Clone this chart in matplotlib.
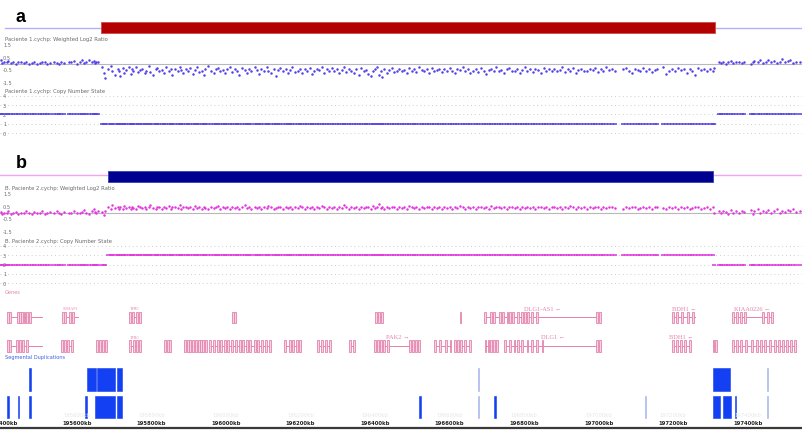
import matplotlib
matplotlib.use('Agg')
import matplotlib.pyplot as plt
from matplotlib.transforms import blended_transform_factory

# ---------------- data ----------------
XMIN, XMAX = 195393, 197546  # kb shown

# CNV calls (kb)
del_a = (195664, 197313)   # Paciente 1, loss (state 1)
dup_b = (195683, 197308)   # Paciente 2, gain (state 3)

# probe positions (kb), shared by both arrays
probes_left = [
    195396, 195399, 195404, 195411, 195415, 195423, 195429, 195436, 195441, 195450,
    195457, 195462, 195470, 195479, 195484, 195492, 195500, 195507, 195515, 195519,
    195527, 195538, 195546, 195551, 195558, 195566, 195577, 195584, 195592, 195600,
    195607, 195613, 195618, 195624, 195631, 195640, 195645, 195649, 195652, 195656]
probes_mid = [
    195667, 195671, 195675, 195683, 195690, 195694, 195701, 195709, 195713, 195716,
    195722, 195725, 195730, 195738, 195744, 195747, 195750, 195758, 195763, 195769,
    195775, 195781, 195785, 195792, 195797, 195805, 195811, 195814, 195820, 195828,
    195833, 195838, 195846, 195851, 195855, 195862, 195870, 195876, 195879, 195884,
    195893, 195899, 195903, 195910, 195916, 195921, 195928, 195935, 195940, 195944,
    195952, 195960, 195967, 195972, 195978, 195984, 195991, 195998, 196003, 196010,
    196017, 196024, 196030, 196035, 196043, 196050, 196056, 196061, 196068, 196077,
    196083, 196088, 196094, 196101, 196109, 196113, 196120, 196128, 196133, 196139,
    196146, 196152, 196160, 196166, 196171, 196178, 196186, 196192, 196198, 196204,
    196211, 196218, 196225, 196230, 196237, 196243, 196250, 196258, 196263, 196270,
    196276, 196284, 196290, 196297, 196303, 196310, 196316, 196323, 196329, 196336,
    196342, 196349, 196357, 196362, 196369, 196375, 196381, 196388, 196393, 196400,
    196406, 196411, 196415, 196419, 196424, 196432, 196437, 196445, 196452, 196458,
    196465, 196471, 196478, 196485, 196490, 196498, 196505, 196511, 196518, 196526,
    196532, 196539, 196545, 196552, 196559, 196566, 196572, 196580, 196586, 196593,
    196600, 196607, 196614, 196620, 196628, 196635, 196641, 196649, 196656, 196663,
    196670, 196676, 196684, 196691, 196697, 196705, 196712, 196718, 196725, 196733,
    196739, 196746, 196754, 196760, 196767, 196775, 196781, 196788, 196795, 196802,
    196809, 196817, 196823, 196830, 196838, 196846, 196853, 196859, 196866, 196874,
    196880, 196888, 196895, 196902, 196910, 196917, 196924, 196932, 196939, 196946,
    196953, 196961, 196968, 196976, 196984, 196991, 196998, 197006, 197013, 197021,
    197028, 197036, 197044, 197066, 197074, 197081, 197089, 197097, 197105, 197112,
    197120, 197128, 197135, 197143, 197151, 197158, 197174, 197182, 197189, 197197,
    197205, 197213, 197221, 197229, 197237, 197244, 197252, 197260, 197268, 197276,
    197284, 197291, 197299, 197306, 197310]
probes_right = [
    197322, 197329, 197335, 197341, 197348, 197356, 197362, 197370, 197377, 197384,
    197391, 197410, 197414, 197418, 197427, 197434, 197441, 197449, 197455, 197462,
    197470, 197478, 197486, 197493, 197500, 197508, 197515, 197522, 197530, 197540]
probes = probes_left + probes_mid + probes_right

log2_a = [
    0.25, 0.05, 0.15, 0.10, 0.20, 0.05, 0.10, 0.00, 0.15, 0.10,
    0.05, 0.10, -0.05, 0.05, 0.10, 0.00, 0.05, 0.10, 0.15, 0.00,
    0.05, 0.10, 0.05, -0.05, 0.10, 0.05, 0.15, 0.10, 0.20, 0.00,
    0.10, 0.25, 0.05, 0.15, 0.30, 0.10, 0.20, 0.05, 0.15, 0.10,
    # deletion
    -0.30, -0.75, -1.10, -0.45, -0.20, -0.60, -0.85, -0.40, -0.55, -0.95,
    -0.35, -0.70, -0.50, -0.25, -0.80, -0.45, -0.60, -0.30, -0.65, -0.50,
    -0.40, -0.75, -0.55, -0.20, -0.65, -0.90, -0.45, -0.35, -0.60, -0.50,
    -0.70, -0.30, -0.55, -0.45, -0.85, -0.40, -0.60, -0.25, -0.50, -0.75,
    -0.45, -0.60, -0.35, -0.80, -0.50, -0.30, -0.65, -0.55, -0.90, -0.40,
    -0.20, -0.55, -0.70, -0.45, -0.35, -0.60, -0.50, -0.75, -0.40, -0.30,
    -0.65, -0.45, -0.55, -0.85, -0.35, -0.50, -0.70, -0.40, -0.60, -0.25,
    -0.50, -0.80, -0.45, -0.60, -0.30, -0.55, -0.70, -0.40, -0.95, -0.50,
    -0.35, -0.60, -0.45, -0.75, -0.50, -0.30, -0.65, -0.55, -0.40, -0.70,
    -0.45, -0.55, -0.35, -0.80, -0.60, -0.40, -0.50, -0.25, -0.70, -0.45,
    -0.60, -0.35, -0.55, -0.45, -0.75, -0.50, -0.30, -0.65, -0.40, -0.55,
    -0.70, -0.45, -0.90, -0.35, -0.60, -0.50, -0.80, -1.00, -0.55, -0.40,
    -0.30, -0.85, -0.60, -1.05, -0.45, -0.70, -0.50, -0.35, -0.65, -0.55,
    -0.40, -0.60, -0.50, -0.75, -0.35, -0.55, -0.45, -0.65, -0.30, -0.50,
    -0.60, -0.45, -0.70, -0.35, -0.55, -0.50, -0.40, -0.65, -0.45, -0.60,
    -0.35, -0.55, -0.75, -0.45, -0.50, -0.30, -0.60, -0.40, -0.70, -0.55,
    -0.45, -0.65, -0.35, -0.55, -0.80, -0.50, -0.40, -0.60, -0.30, -0.55,
    -0.50, -0.70, -0.45, -0.35, -0.60, -0.55, -0.40, -0.75, -0.50, -0.30,
    -0.55, -0.45, -0.65, -0.40, -0.50, -0.70, -0.35, -0.60, -0.45, -0.55,
    -0.40, -0.60, -0.50, -0.30, -0.65, -0.45, -0.55, -0.35, -0.70, -0.50,
    -0.45, -0.55, -0.60, -0.40, -0.50, -0.35, -0.65, -0.45, -0.55, -0.30,
    -0.50, -0.40, -0.60, -0.45, -0.35, -0.55, -0.70, -0.40, -0.50, -0.60,
    -0.35, -0.55, -0.45, -0.65, -0.50, -0.40, -0.30, -0.80, -0.55, -0.45,
    -0.60, -0.35, -0.50, -0.45, -0.70, -0.40, -0.55, -0.90, -0.35, -0.50,
    -0.45, -0.60, -0.40, -0.55, -0.35,
    # right
    0.10, 0.05, 0.15, 0.00, 0.10, 0.20, 0.05, 0.10, 0.15, 0.05,
    0.10, 0.00, 0.15, 0.20, 0.10, 0.25, 0.05, 0.15, 0.30, 0.10,
    0.20, 0.05, 0.15, 0.35, 0.10, 0.20, 0.25, 0.05, 0.15, 0.10]

log2_b = [
    0.05, -0.10, 0.00, -0.05, 0.10, -0.15, 0.00, 0.05, -0.10, 0.00,
    -0.05, 0.10, 0.00, -0.10, 0.05, -0.05, 0.00, 0.15, -0.10, 0.00,
    0.05, -0.05, 0.10, 0.00, -0.15, 0.05, 0.00, -0.05, 0.10, 0.00,
    -0.05, 0.05, 0.20, 0.00, -0.10, 0.10, 0.25, 0.05, -0.05, 0.15,
    # duplication
    0.05, -0.20, 0.10, 0.40, 0.30, 0.55, 0.35, 0.45, 0.25, 0.40,
    0.30, 0.50, 0.35, 0.40, 0.25, 0.45, 0.35, 0.30, 0.50, 0.40,
    0.35, 0.45, 0.30, 0.40, 0.55, 0.35, 0.25, 0.40, 0.45, 0.30,
    0.40, 0.35, 0.50, 0.30, 0.45, 0.40, 0.35, 0.60, 0.30, 0.40,
    0.45, 0.35, 0.40, 0.30, 0.50, 0.35, 0.45, 0.25, 0.40, 0.35,
    0.30, 0.45, 0.35, 0.40, 0.50, 0.30, 0.40, 0.35, 0.45, 0.25,
    0.40, 0.35, 0.45, 0.30, 0.40, 0.55, 0.35, 0.40, 0.30, 0.45,
    0.35, 0.40, 0.30, 0.45, 0.35, 0.50, 0.40, 0.30, 0.35, 0.45,
    0.40, 0.30, 0.45, 0.35, 0.40, 0.25, 0.45, 0.35, 0.50, 0.40,
    0.30, 0.40, 0.35, 0.45, 0.30, 0.40, 0.35, 0.50, 0.40, 0.30,
    0.45, 0.35, 0.40, 0.30, 0.45, 0.35, 0.55, 0.40, 0.30, 0.40,
    0.35, 0.45, 0.30, 0.40, 0.35, 0.45, 0.40, 0.30, 0.50, 0.35,
    0.40, 0.65, 0.35, 0.45, 0.30, 0.40, 0.35, 0.45, 0.40, 0.30,
    0.45, 0.35, 0.40, 0.30, 0.50, 0.40, 0.35, 0.45, 0.30, 0.40,
    0.35, 0.45, 0.40, 0.30, 0.40, 0.35, 0.45, 0.30, 0.40, 0.35,
    0.45, 0.30, 0.40, 0.35, 0.50, 0.40, 0.30, 0.45, 0.35, 0.40,
    0.30, 0.40, 0.45, 0.35, 0.40, 0.30, 0.50, 0.35, 0.40, 0.45,
    0.35, 0.40, 0.30, 0.45, 0.40, 0.35, 0.45, 0.30, 0.40, 0.35,
    0.45, 0.35, 0.40, 0.30, 0.40, 0.45, 0.35, 0.40, 0.30, 0.45,
    0.40, 0.35, 0.45, 0.30, 0.40, 0.35, 0.50, 0.40, 0.30, 0.45,
    0.35, 0.40, 0.30, 0.45, 0.35, 0.40, 0.45, 0.30, 0.40, 0.35,
    0.40, 0.45, 0.35, 0.30, 0.40, 0.35, 0.45, 0.40, 0.30, 0.35,
    0.45, 0.35, 0.40, 0.30, 0.40, 0.45, 0.35, 0.30, 0.40, 0.35,
    0.40, 0.30, 0.45, 0.35, 0.40, 0.30, 0.35, 0.45, 0.40, 0.30,
    0.35, 0.40, 0.30, 0.40, -0.05,
    # right
    0.10, -0.05, 0.15, 0.05, -0.10, 0.20, 0.00, 0.10, -0.05, 0.15,
    0.05, 0.20, -0.10, 0.10, 0.25, 0.00, 0.15, 0.05, 0.20, -0.05,
    0.10, 0.25, 0.00, 0.15, 0.05, 0.20, 0.10, 0.30, 0.05, 0.15]

cn_a = [1 if del_a[0] <= p <= del_a[1] else 2 for p in probes]
cn_b = [3 if dup_b[0] <= p <= dup_b[1] else 2 for p in probes]

# genes: (start, end, exons, label)
genes_row1 = [
    (195415, 195506, [195415, 195420, 195441, 195446, 195452, 195459, 195466, 195473], ''),
    (195562, 195603, [195562, 195568, 195581, 195589], 'SDHAP1'),
    (195742, 195769, [195742, 195750, 195761, 195769], 'TFRC'),
    (196019, 196024, [196019, 196024], ''),
    (196403, 196419, [196403, 196411, 196419], ''),
    (196629, 196629, [196629], ''),
    (196695, 197004, [196695, 196711, 196719, 196736, 196744, 196755, 196763, 196771,
                      196784, 196795, 196803, 196811, 196822, 196835, 196996, 197004], 'DLG1-AS1 \u2190'),
    (197200, 197259, [197200, 197211, 197224, 197240, 197254], 'BDH1 \u2190'),
    (197361, 197465, [197361, 197372, 197383, 197393, 197441, 197454, 197465], 'KIAA0226 \u2190'),
]
genes_row2 = [
    (195415, 195506, [195415, 195420, 195439, 195447, 195455, 195466], ''),
    (195560, 195587, [195560, 195568, 195576, 195587], ''),
    (195654, 195678, [195654, 195662, 195670, 195678], ''),
    (195742, 195769, [195742, 195753, 195761, 195769], 'TFRC'),
    (195836, 195850, [195836, 195844, 195850], ''),
    (195890, 195946, [195890, 195898, 195903, 195911, 195920, 195928, 195933, 195938, 195946], ''),
    (195957, 196118, [195957, 195968, 195979, 195987, 195997, 196005, 196016, 196027, 196037,
                      196046, 196056, 196065, 196078, 196086, 196097, 196107, 196118], ''),
    (196159, 196199, [196159, 196172, 196180, 196191, 196199], ''),
    (196247, 196279, [196247, 196258, 196269, 196279], ''),
    (196333, 196344, [196333, 196344], ''),
    (196400, 196520, [196400, 196408, 196416, 196424, 196435, 196494, 196502, 196510, 196518], 'PAK2 \u2192'),
    (196561, 196602, [196561, 196575, 196591, 196602], ''),
    (196615, 196655, [196615, 196623, 196631, 196642, 196655], ''),
    (196696, 196728, [196696, 196704, 196712, 196720, 196728], ''),
    (196749, 197004, [196749, 196763, 196774, 196784, 196795, 196809, 196822, 196835, 196849,
                      196996, 197004], 'DLG1 \u2190'),
    (197200, 197246, [197200, 197211, 197222, 197232, 197246], 'BDH1 \u2190'),
    (197308, 197316, [197308, 197316], ''),
    (197361, 197528, [197361, 197372, 197383, 197396, 197412, 197425, 197436, 197447, 197460,
                      197473, 197484, 197495, 197506, 197517, 197528], ''),
]

# segmental duplications: (start, end, strong?)
segdup_row1 = [(195472, 195477, True), (195627, 195651, True), (195654, 195702, True),
               (195707, 195721, True), (196676, 196679, False), (197308, 197353, True),
               (197452, 197455, False)]
segdup_row2 = [(195413, 195417, True), (195440, 195444, True), (195472, 195477, True),
               (195622, 195626, True), (195648, 195702, True), (195707, 195721, True),
               (196518, 196522, True), (196676, 196679, False), (196720, 196724, True),
               (197124, 197127, False), (197308, 197326, True), (197334, 197356, True),
               (197366, 197369, True), (197452, 197455, False)]

tick_kb = [195400, 195600, 195800, 196000, 196200, 196400, 196600, 196800, 197000, 197200, 197400]
log2_ticks = [1.5, 0.5, -0.5, -1.5]
cn_ticks = [4, 3, 2, 1, 0]

# ---------------- drawing ----------------
W, H = 802, 431
fig = plt.figure(figsize=(W / 100, H / 100), dpi=100)
fig.patch.set_facecolor('white')

BLUE_PTS = '#5340ea'
MAG_PTS = '#e236de'
PINK = '#e483ad'
GRAY_TXT = '#6a6a6a'


def track(top, bottom, ylim):
    ax = fig.add_axes([0, 1 - bottom / H, 1, (bottom - top) / H])
    ax.set_xlim(XMIN, XMAX)
    ax.set_ylim(*ylim)
    ax.axis('off')
    return ax


def ftext(x, y, s, **kw):
    fig.text(x / W, 1 - y / H, s, **kw)


def left_labels(ax, vals, labels):
    tr = blended_transform_factory(ax.transAxes, ax.transData)
    for v, l in zip(vals, labels):
        ax.text(3 / W, v, l, transform=tr, fontsize=3.6, color=GRAY_TXT,
                va='center', ha='left')


small = dict(fontsize=3.8, color=GRAY_TXT, va='center', ha='left')

# panel letters
ftext(20, 17, 'a', fontsize=13, fontweight='bold', family='Liberation Sans', ha='center', va='center')
ftext(21, 164, 'b', fontsize=13, fontweight='bold', family='Liberation Sans', ha='center', va='center')

# CNV bars
ax = track(20, 38, (0, 1))
ax.axhline(0.5, xmin=5 / W, color='#b6b0f4', lw=1.0, zorder=1)
ax.broken_barh([(del_a[0], del_a[1] - del_a[0])], (0.22, 0.61),
               facecolor='#b30000', edgecolor='#cf4a4a', lw=0.6, zorder=3)

ax = track(168, 186, (0, 1))
ax.axhline(0.53, color='#f2a6f2', lw=1.0, zorder=1)
ax.broken_barh([(dup_b[0], dup_b[1] - dup_b[0])], (0.17, 0.61),
               facecolor='#000090', edgecolor='#3c3cb8', lw=0.6, zorder=3)

# log2 ratio tracks
for top, bottom, vals, col, title, ty in [
        (43, 86, log2_a, BLUE_PTS, 'Paciente 1.cychp: Weighted Log2 Ratio', 40),
        (192, 235, log2_b, MAG_PTS, 'B. Paciente 2.cychp: Weighted Log2 Ratio', 189)]:
    ax = track(top, bottom, (-1.654, 1.654))
    ax.axhline(0, color='#b8b8b8', lw=0.8, zorder=1)
    ax.scatter(probes, vals, s=3.2, color=col, linewidths=0, zorder=2)
    left_labels(ax, log2_ticks, ['1.5', '0.5', '-0.5', '-1.5'])
    ftext(5, ty, title, **small)

# copy number tracks
for top, bottom, vals, col, title, ty, ylim in [
        (94, 137, cn_a, BLUE_PTS, 'Paciente 1.cychp: Copy Number State', 91, (-0.32, 4.30)),
        (244, 287, cn_b, MAG_PTS, 'B. Paciente 2.cychp: Copy Number State', 241, (-0.32, 4.32))]:
    ax = track(top, bottom, ylim)
    for s in cn_ticks:
        ax.axhline(s, color='#cccccc', lw=0.7, ls=(0, (1, 3)), zorder=1)
    ax.plot(probes, vals, '_', color=col, ms=3.2, mew=1.1, zorder=2)
    left_labels(ax, cn_ticks, [str(s) for s in cn_ticks])
    ftext(5, ty, title, **small)

# genes
ftext(5, 292, 'Genes', fontsize=3.6, color=PINK, va='center', ha='left')
ax = track(298, 360, (2.456, 0.281))
for row, genes in [(1, genes_row1), (2, genes_row2)]:
    for start, end, exons, label in genes:
        if end > start:
            ax.plot([start, end], [row, row], color=PINK, lw=0.7, zorder=1)
        ax.bar(exons, 0.39, width=4.5, bottom=row - 0.195, color='#f8d3e3',
               edgecolor=PINK, lw=0.6, zorder=2)
        if label:
            fs = 4.6 if '\u2190' in label or '\u2192' in label else 3.0
            ax.text((start + end) / 2, row - 0.33, label, fontsize=fs, color=PINK,
                    ha='center', va='center', family=['Liberation Serif', 'DejaVu Sans'])

# segmental duplications
ftext(5, 358, 'Segmental Duplications', fontsize=3.6, color='#3a5ee8', va='center', ha='left')
ax = track(365, 422, (2.509, 0.436))
for row, dups in [(1, segdup_row1), (2, segdup_row2)]:
    for start, end, strong in dups:
        fc = '#1240f2' if strong else '#a9b4ee'
        ax.broken_barh([(start, end - start)], (row - 0.418, 0.836),
                       facecolor=fc, edgecolor=fc, lw=0.4)

# coordinate axis
ax = track(412, 431, (0, 1))
ax.axhline(0.08, color='#3a3a3a', lw=1.6)
for kb in tick_kb:
    ax.text(kb, 0.37, f'{kb}kb', fontsize=3.8, fontweight='bold', color='#222222',
            ha='center', va='center')
    if kb != tick_kb[0]:
        ax.text(kb, 0.80, f'{kb}kb', fontsize=3.8, color='#e6e6e6', ha='center', va='center')

fig.savefig('out.png', dpi=100, facecolor='white')
